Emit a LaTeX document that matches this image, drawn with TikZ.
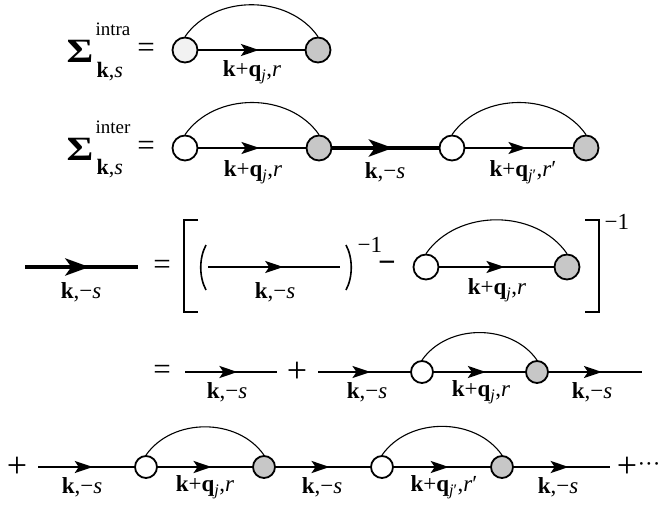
\documentclass[tikz,border=0pt]{standalone}
\usepackage{fontspec}
\setmainfont{Liberation Serif}
\usetikzlibrary{arrows.meta}
\usetikzlibrary{decorations.markings}

\newcommand{\kqj}{\textbf{k}+\textbf{q}\textsubscript{\textit{j}},\textit{r}}
\newcommand{\kqjp}{\textbf{k}+\textbf{q}\textsubscript{\textit{j}′},\textit{r}′}
\newcommand{\kms}{\textbf{k},−\textit{s}}

\begin{document}
\begin{tikzpicture}[x=1pt,y=1pt,
    vin/.style={circle, draw, line width=1.8pt, fill=white, minimum size=25pt, inner sep=0pt},
    vout/.style={vin, fill=gray!44},
    small/.style={minimum size=22pt},
    prop/.style={line width=2.2pt, decoration={markings, mark=at position 0.57 with {\arrow{Stealth[length=18pt,width=12pt,inset=4pt]}}}, postaction={decorate}},
    dressed/.style={line width=4.5pt, decoration={markings, mark=at position 0.57 with {\arrow{Stealth[length=24pt,width=17pt,inset=6pt]}}}, postaction={decorate}},
    phonon/.style={line width=1.1pt},
    brk/.style={line width=1.8pt},
    lbl/.style={font=\fontsize{23}{23}\selectfont},
    op/.style={font=\fontsize{31}{31}\selectfont},
    plus/.style={font=\fontsize{36}{36}\selectfont},
    sig/.style={font=\fontsize{34}{34}\selectfont\bfseries},
    idx/.style={font=\fontsize{19}{19}\selectfont},
    sub/.style={font=\fontsize{22}{22}\selectfont},
    inv/.style={font=\fontsize{23}{23}\selectfont}]
    \useasboundingbox (0,0) rectangle (659,-506);

    % Sigma intra
    \node[sig, anchor=base] (sigA) at (80,-62) {\scalebox{1.2}[1]{Σ}};
    \node[idx, anchor=base west] (supA) at (92,-35) {intra};
    \node[sub, anchor=base west] (subA) at (93,-77) {\textbf{k},\textit{s}};
    \node[op] (eqA) at (146,-50) {=};
    \node[vin, fill=black!5] (oA) at (185,-50) {};
    \node[vout] (fA) at (318,-50) {};
    \draw[prop] (oA) -- (fA);
    \draw[phonon] (oA.north) to[out=55,in=125] (fA.north);
    \node[lbl] (lA) at (252,-72) {\kqj};

    % Sigma inter
    \node[sig, anchor=base] (sigB) at (80,-160) {\scalebox{1.2}[1]{Σ}};
    \node[idx, anchor=base west] (supB) at (92,-133) {inter};
    \node[sub, anchor=base west] (subB) at (93,-174) {\textbf{k},\textit{s}};
    \node[op] (eqB) at (146,-148) {=};
    \node[vin] (oB1) at (185,-148) {};
    \node[vout] (fB1) at (319,-148) {};
    \node[vin] (oB2) at (452,-148) {};
    \node[vout] (fB2) at (586,-148) {};
    \draw[prop] (oB1) -- (fB1);
    \draw[dressed] (fB1) -- (oB2);
    \draw[prop] (oB2) -- (fB2);
    \draw[phonon] (oB1.north) to[out=55,in=125] (fB1.north);
    \draw[phonon] (oB2.north) to[out=55,in=125] (fB2.north);
    \node[lbl] (lB1) at (253,-172) {\kqj};
    \node[lbl] (lB2) at (385,-172) {\kms};
    \node[lbl] (lB3) at (523,-172) {\kqjp};

    % Dyson equation
    \coordinate (gL) at (25,-267);
    \coordinate (gR) at (138,-267);
    \draw[dressed] (gL) -- (gR);
    \node[lbl] (lC0) at (81,-292) {\kms};
    \node[op] (eqC) at (162,-267) {=};
    \draw[brk] (198,-220) -- (184,-220) -- (184,-312) -- (198,-312);
    \draw[line width=1.6pt] (206,-245) .. controls (199,-258) and (199,-277) .. (206,-290);
    \coordinate (g0L) at (208,-267);
    \coordinate (g0R) at (340,-267);
    \draw[prop] (g0L) -- (g0R);
    \node[lbl] (lC1) at (275,-292) {\kms};
    \draw[line width=1.6pt] (346,-245) .. controls (353,-258) and (353,-277) .. (346,-290);
    \node[inv, anchor=base west] (invA) at (354,-252) {−1};
    \node[op] (minC) at (387,-267) {\textbf{−}};
    \node[vin] (oC) at (426,-267) {};
    \node[vout] (fC) at (567,-267) {};
    \draw[prop] (oC) -- (fC);
    \draw[phonon] (oC.north) to[out=55,in=125] (fC.north);
    \node[lbl] (lC2) at (497,-290) {\kqj};
    \draw[brk] (585,-220) -- (599,-220) -- (599,-312) -- (585,-312);
    \node[inv, anchor=base west] (invB) at (601,-229) {−1};

    % first expansion
    \node[op] (eqD) at (162,-372) {=};
    \coordinate (dL) at (185,-372);
    \coordinate (dR) at (277,-372);
    \draw[prop] (dL) -- (dR);
    \node[lbl] (lD0) at (227,-392) {\kms};
    \node[plus] (plD) at (297,-372) {+};
    \coordinate (d1) at (318,-372);
    \node[vin, small] (oD) at (422,-372) {};
    \node[vout, small] (fD) at (537,-372) {};
    \coordinate (d2) at (642,-372);
    \draw[prop] (d1) -- (oD);
    \draw[prop] (oD) -- (fD);
    \draw[prop] (fD) -- (d2);
    \draw[phonon] (oD.north) to[out=55,in=125] (fD.north);
    \node[lbl] (lD1) at (367,-392) {\kms};
    \node[lbl] (lD2) at (481,-392) {\kqj};
    \node[lbl] (lD3) at (592,-392) {\kms};

    % second order
    \node[plus] (plE1) at (17,-467) {+};
    \coordinate (e1) at (38,-467);
    \node[vin, small] (oE1) at (146,-467) {};
    \node[vout, small] (fE1) at (264,-467) {};
    \node[vin, small] (oE2) at (382,-467) {};
    \node[vout, small] (fE2) at (502,-467) {};
    \coordinate (e2) at (610,-467);
    \draw[prop] (e1) -- (oE1);
    \draw[prop] (oE1) -- (fE1);
    \draw[prop] (fE1) -- (oE2);
    \draw[prop] (oE2) -- (fE2);
    \draw[prop] (fE2) -- (e2);
    \draw[phonon] (oE1.north) to[out=55,in=125] (fE1.north);
    \draw[phonon] (oE2.north) to[out=55,in=125] (fE2.north);
    \node[lbl] (lE1) at (82,-487) {\kms};
    \node[lbl] (lE2) at (205,-487) {\kqj};
    \node[lbl] (lE3) at (322,-487) {\kms};
    \node[lbl] (lE4) at (444,-487) {\kqjp};
    \node[lbl] (lE5) at (558,-487) {\kms};
    \node[plus] (plE2) at (627,-467) {+};
    \node[lbl] (dots) at (649,-467) {···};
\end{tikzpicture}
\end{document}
